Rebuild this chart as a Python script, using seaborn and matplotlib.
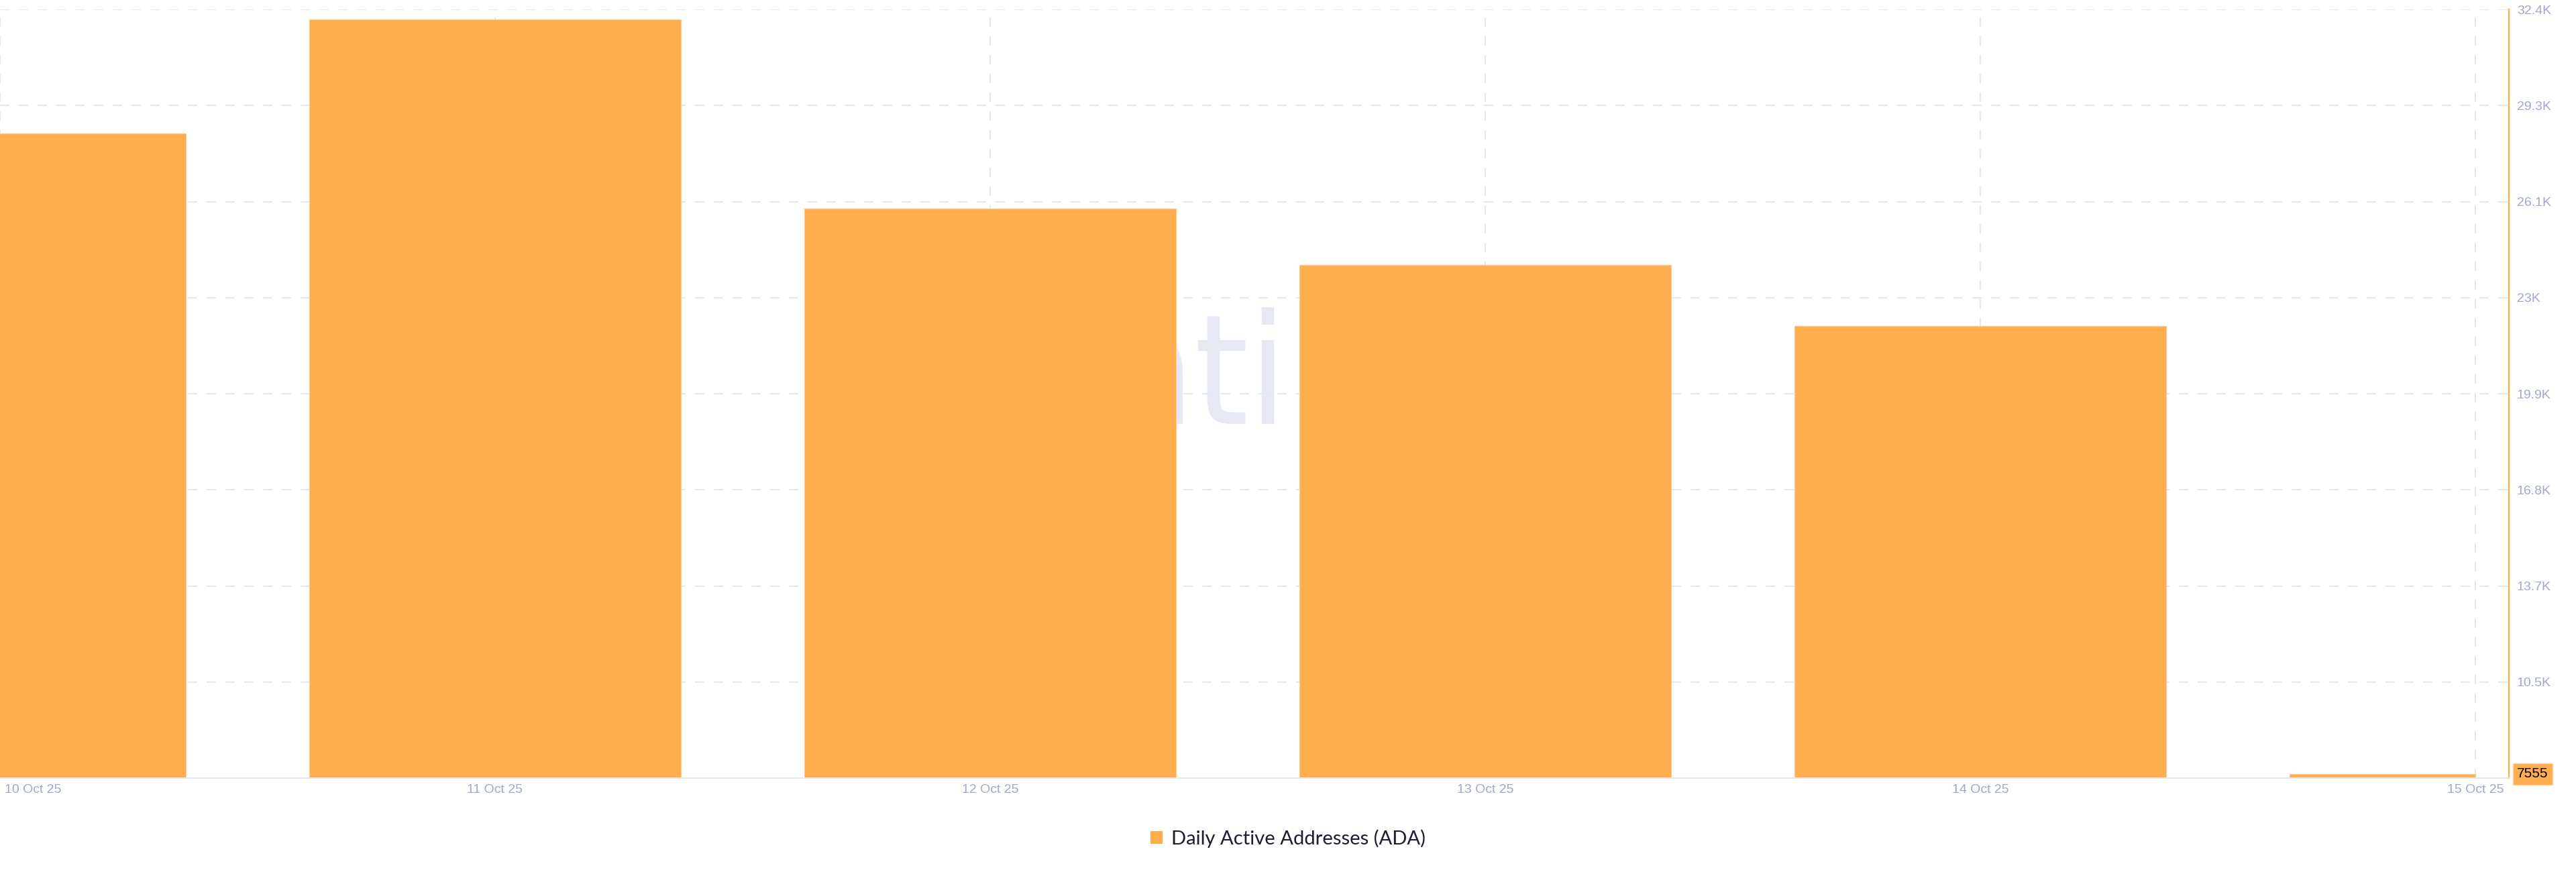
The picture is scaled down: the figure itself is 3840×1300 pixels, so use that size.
import numpy as np
import pandas as pd
import matplotlib
matplotlib.use("Agg")
import matplotlib.pyplot as plt
import matplotlib.transforms as mtransforms
import seaborn as sns
from matplotlib.patches import Patch
from matplotlib import font_manager as fm

# ---- data ----
dates = ["10 Oct 25", "11 Oct 25", "12 Oct 25", "13 Oct 25", "14 Oct 25", "15 Oct 25"]
active_addresses = [28350, 32050, 25910, 24080, 22100, 7555]
y_ticks = [10540, 13660, 16780, 19900, 23020, 26140, 29260, 32380]
y_tick_labels = ["10.5K", "13.7K", "16.8K", "19.9K", "23K", "26.1K", "29.3K", "32.4K"]
y_min = 7420
y_max = 32380
last_value_label = "7555"
series_name = "Daily Active Addresses (ADA)"
watermark = "santiment"

ORANGE = "#FFAD4D"
TICK_COLOR = "#A0AAC6"
GRID_COLOR = "#E4E7F1"

sns.set_theme(style="white")
available = {f.name for f in fm.fontManager.ttflist}


def pick(names):
    return [n for n in names if n in available] + ["DejaVu Sans"]


def condensed_font():
    cond = ("condensed", "semi-condensed", "extra-condensed", "ultra-condensed")
    for fam in ["Liberation Sans Narrow", "DejaVu Sans", "Noto Sans", "Open Sans", "Roboto"]:
        for f in fm.fontManager.ttflist:
            if f.name == fam and (f.name == "Liberation Sans Narrow" or str(f.stretch) in cond
                                  or "Condensed" in f.fname) and f.weight in (400, "normal", "regular") \
                    and f.style == "normal":
                return fm.FontProperties(fname=f.fname), True
    return fm.FontProperties(family="DejaVu Sans"), False


plt.rcParams["font.family"] = pick(["Liberation Sans"])

fig = plt.figure(figsize=(38.4, 13), dpi=100)
fig.patch.set_facecolor("white")
ax = fig.add_axes([0.0, 0.10769, 0.97396, 0.88154])
ax.set_facecolor("white")

# watermark behind everything
wm_font, is_cond = condensed_font()
wm_font.set_size(165 if is_cond else 140)
ax.text(0.3787 if is_cond else 0.38, 0.461, watermark, transform=ax.transAxes, ha="left",
        va="baseline", fontproperties=wm_font, color="#E6E9F3", zorder=0.2)

df = pd.DataFrame({"date": dates, "value": active_addresses})
sns.barplot(data=df, x="date", y="value", color=ORANGE, saturation=1, width=0.75,
            edgecolor="#FFC78F", linewidth=0.8, ax=ax, zorder=2)

# last (ongoing) day is drawn as a half bar
last = ax.patches[-1]
last.set_width(last.get_width() / 2)

ax.set_xlim(0, 5.068)
ax.set_ylim(y_min, y_max)
ax.set_xlabel("")
ax.set_ylabel("")

# grid
ax.set_axisbelow(True)
ax.grid(True, axis="both", linestyle=(0, (7, 7)), color=GRID_COLOR, linewidth=1.44, zorder=0.5)

# spines
for s in ["top", "left"]:
    ax.spines[s].set_visible(False)
ax.spines["bottom"].set_color("#E3E6EF")
ax.spines["bottom"].set_linewidth(1.6)
ax.spines["right"].set_color(ORANGE)
ax.spines["right"].set_linewidth(1.6)

# y axis on the right
ax.yaxis.tick_right()
ax.set_yticks(y_ticks)
ax.set_yticklabels(y_tick_labels)
ax.tick_params(axis="y", length=0, pad=8.6, labelsize=14, labelcolor=TICK_COLOR)

# x axis
ax.set_xticks(range(len(dates)))
ax.set_xticklabels(dates)
ax.tick_params(axis="x", length=0, pad=6.5, labelsize=14, labelcolor=TICK_COLOR)
xl = ax.get_xticklabels()
xl[0].set_horizontalalignment("left")
xl[0].set_transform(xl[0].get_transform() + mtransforms.ScaledTranslation(0.07, 0, fig.dpi_scale_trans))

# last value badge on the right axis
ax.annotate(last_value_label, xy=(1.0, active_addresses[-1]), xycoords=("axes fraction", "data"),
            xytext=(12, 0), textcoords="offset pixels", ha="left", va="center",
            fontsize=15, color="black", annotation_clip=False,
            bbox=dict(boxstyle="square,pad=0.3", facecolor=ORANGE, edgecolor="#FFD3A0", linewidth=1))

# legend
fig.legend(handles=[Patch(facecolor=ORANGE, edgecolor="none", label=series_name)],
           loc="center", bbox_to_anchor=(0.5, 0.0385), frameon=False,
           handlelength=0.6, handleheight=0.6, handletextpad=0.45, labelcolor="#1B1E2E",
           prop={"family": pick(["Lato", "Open Sans"]), "size": 21})

fig.savefig("out.png", dpi=100, facecolor="white")
